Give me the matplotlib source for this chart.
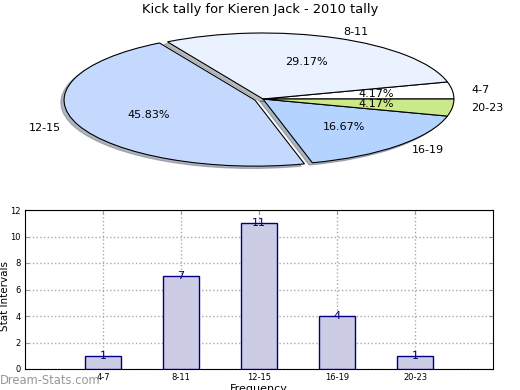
import matplotlib
matplotlib.use("Agg")
import matplotlib.pyplot as plt

title = "Kick tally for Kieren Jack - 2010 tally"
categories = ["4-7", "8-11", "12-15", "16-19", "20-23"]
counts = [1, 7, 11, 4, 1]
pie_colors = ["#ffffff", "#ebf2ff", "#c5d9fe", "#b4d4ff", "#cce98a"]
explode = [0, 0, 0.045, 0, 0]

fig = plt.figure(figsize=(5.2, 3.9), dpi=100)

# Pie chart (elliptical, aspect not equal)
ax1 = fig.add_axes([0.0, 1 - 180 / 390, 1.0, 160 / 390])
ax1.pie(counts, labels=categories, colors=pie_colors, explode=explode,
        autopct="%.2f%%", startangle=0,
        shadow=dict(ox=-0.012, oy=-0.025, shade=0.5),
        wedgeprops=dict(edgecolor="black", linewidth=0.8),
        textprops=dict(fontsize=8))
ax1.set_aspect("auto")
ax1.set_xlim(-1.377, 1.346)
ax1.set_ylim(-1.227, 1.197)
fig.text(0.5, 1 - 10 / 390, title, ha="center", va="center", fontsize=9.4)

# Bar chart
ax2 = fig.add_axes([25 / 520, 1 - 369 / 390, 468 / 520, 159 / 390])
pos = list(range(len(categories)))
ax2.bar(pos, counts, width=0.46, color="#ccccE5", edgecolor="#000080", linewidth=1.0, zorder=3)
for p, c in zip(pos, counts):
    ax2.text(p, c, str(c), ha="center", va="center", color="#000080", fontsize=8, zorder=4)
ax2.set_xlim(-1, 5)
ax2.set_ylim(0, 12)
ax2.set_yticks(range(0, 13, 2))
ax2.set_xticks(pos)
ax2.set_xticklabels(categories)
ax2.tick_params(labelsize=6, direction="in", top=True, right=True, length=3, color="#999999", pad=3)
ax2.grid(True, linestyle=":", color="#aaaaaa", linewidth=1.0, zorder=0)
ax2.set_ylabel("Stat Intervals", fontsize=7.5)
ax2.yaxis.set_label_coords(-0.032, 0.46)
ax2.set_xlabel("Frequency", fontsize=8, labelpad=1)
for s in ax2.spines.values():
    s.set_linewidth(0.8)

fig.text(0.0, 1 - 380 / 390, "Dream-Stats.com", ha="left", va="center", fontsize=8.3,
         color="#8c8c8c", alpha=0.9)

fig.savefig("out.png", dpi=100)
